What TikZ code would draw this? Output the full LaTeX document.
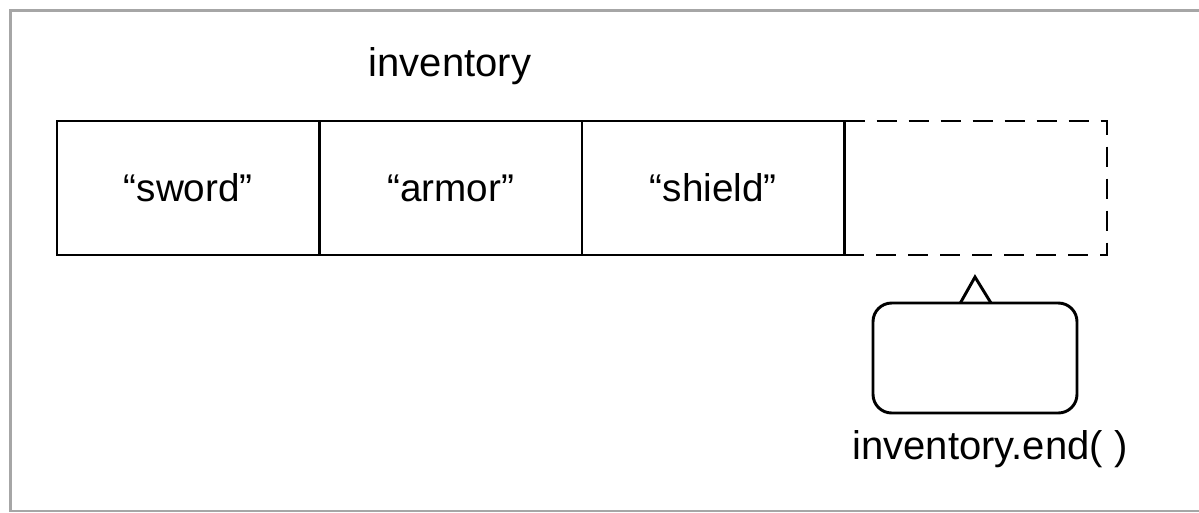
\documentclass[tikz,border=0pt]{standalone}
\usepackage{fontspec}
\setmainfont{Liberation Sans}
\begin{document}
\begin{tikzpicture}[x=0.75pt,y=-0.75pt,
  cell/.style={draw=black,line width=2.2pt,outer sep=0pt,minimum width=262.5*0.75pt,minimum height=134*0.75pt,inner sep=0pt,font=\fontsize{29}{34}\selectfont,anchor=north west},
  emptycell/.style={cell,dashed,dash pattern=on 15pt off 9pt},
  lbl/.style={font=\fontsize{30}{36}\selectfont,inner sep=0pt},
  iter/.style={draw=black,line width=2.2pt,outer sep=0pt,rounded corners=14pt,minimum width=204*0.75pt,minimum height=110*0.75pt,inner sep=0pt}]
\useasboundingbox (0,0) rectangle (1199,512);
\draw[gray!70,line width=1.6pt] (1210,10.5) -- (10.5,10.5) -- (10.5,511) -- (1210,511);
\node[lbl] (title) at (450,66) {inventory};
\node[cell] (c1) at (57,121) {“sword”};
\node[cell] (c2) at (c1.north east) {“armor”};
\node[cell] (c3) at (c2.north east) {“shield”};
\node[emptycell,draw=none] (c4) at (c3.north east) {};
\draw[line width=2.2pt,dash pattern=on 15pt off 9pt] (c4.north west) -- (c4.north east) -- (c4.south east) -- (c4.south west);
\draw[line width=2.2pt] (c3.north east) -- (c3.south east);
\node[iter] (it) at (975,358) {};
\coordinate (tip) at (975,277);
\draw[line width=2.2pt,line join=miter] ([xshift=-11pt]it.north) -- (tip) -- ([xshift=12pt]it.north);
\node[lbl] (itlbl) at (990,449) {inventory.end( )};
\end{tikzpicture}
\end{document}
